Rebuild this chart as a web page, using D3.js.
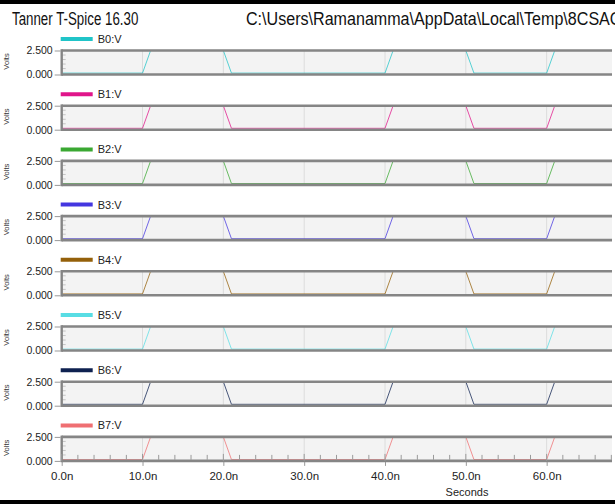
<!DOCTYPE html>
<html>
<head>
<meta charset="utf-8">
<script src="https://cdn.jsdelivr.net/npm/d3@7"></script>
<style>
  body { margin: 0; background: white; }
  svg { display: block; font-family: 'Liberation Sans', Arial, sans-serif; }
  .tick text { font-size: 11px; fill: #222; }
</style>
</head>
<body>
<div id="chart"></div>
<script>
// DATA
const signalNames = ['B0:V', 'B1:V', 'B2:V', 'B3:V', 'B4:V', 'B5:V', 'B6:V', 'B7:V'];
const signalColors = ['#20c4c8', '#e0158a', '#3aa832', '#4436e0', '#94600a', '#58dde4', '#0e2150', '#ef6f72'];
const timeNs = [0, 10, 11, 20, 21, 40, 41, 50, 51, 60, 61, 80];
const b0 = [0, 0, 2.5, 2.5, 0, 0, 2.5, 2.5, 0, 0, 2.5, 2.5];
const b1 = [0, 0, 2.5, 2.5, 0, 0, 2.5, 2.5, 0, 0, 2.5, 2.5];
const b2 = [0, 0, 2.5, 2.5, 0, 0, 2.5, 2.5, 0, 0, 2.5, 2.5];
const b3 = [0, 0, 2.5, 2.5, 0, 0, 2.5, 2.5, 0, 0, 2.5, 2.5];
const b4 = [0, 0, 2.5, 2.5, 0, 0, 2.5, 2.5, 0, 0, 2.5, 2.5];
const b5 = [0, 0, 2.5, 2.5, 0, 0, 2.5, 2.5, 0, 0, 2.5, 2.5];
const b6 = [0, 0, 2.5, 2.5, 0, 0, 2.5, 2.5, 0, 0, 2.5, 2.5];
const b7 = [0, 0, 2.5, 2.5, 0, 0, 2.5, 2.5, 0, 0, 2.5, 2.5];
const signalValues = [b0, b1, b2, b3, b4, b5, b6, b7];
const xTicks = [0, 10, 20, 30, 40, 50, 60];
const yTicks = [0, 2.5];

// DIMENSIONS
const width = 615, height = 504;
const plotLeft = 61.7, plotRight = 612;
const panelTop0 = 50.5, panelStep = 55.2, panelH = 24;

const svg = d3.select('#chart').append('svg')
    .attr('width', width)
    .attr('height', height);

// BLACK BARS
svg.append('rect').attr('x', 0).attr('y', 0).attr('width', width).attr('height', 4).attr('fill', '#000');
svg.append('rect').attr('x', 0).attr('y', 500).attr('width', width).attr('height', 4).attr('fill', '#000');

// TITLES
svg.append('text').attr('transform', 'translate(12,25) scale(0.72,1)')
    .style('font-size', '18.5px').attr('fill', '#111').text('Tanner T-Spice 16.30');
svg.append('text').attr('transform', 'translate(246,25) scale(0.87,1)')
    .style('font-size', '18.5px').attr('fill', '#111').text('C:\\Users\\Ramanamma\\AppData\\Local\\Temp\\8CSAC');

// X SCALE
const xScale = d3.scaleLinear().domain([0, 70]).range([plotLeft, plotLeft + 565.8]);

svg.append('clipPath').attr('id', 'clip')
    .append('rect').attr('x', plotLeft).attr('y', 0).attr('width', plotRight - plotLeft).attr('height', height);

signalNames.forEach((name, i) => {
    const top = panelTop0 + i * panelStep;
    const bottom = top + panelH;
    const yScale = d3.scaleLinear().domain([0, 2.5]).range([bottom - 1.4, top]);

    const g = svg.append('g');

    // LEGEND
    g.append('line')
        .attr('x1', plotLeft - 1).attr('x2', plotLeft + 31)
        .attr('y1', top - 11.5).attr('y2', top - 11.5)
        .attr('stroke', signalColors[i]).attr('stroke-width', 4);
    g.append('text')
        .attr('x', plotLeft + 36).attr('y', top - 7.5)
        .style('font-size', '11px').attr('fill', '#222')
        .text(name);

    // PANEL BACKGROUND
    g.append('rect')
        .attr('x', plotLeft).attr('y', top)
        .attr('width', plotRight - plotLeft).attr('height', panelH)
        .attr('fill', '#f3f3f3');

    // GRID
    g.selectAll('.grid').data(xTicks.slice(1)).enter()
        .append('line')
        .attr('x1', d => xScale(d)).attr('x2', d => xScale(d))
        .attr('y1', top).attr('y2', bottom)
        .attr('stroke', '#dcdcdc').attr('stroke-width', 1);

    // MINOR Y TICKS INSIDE
    g.selectAll('.ymin').data([0.5, 1, 1.5, 2]).enter()
        .append('line')
        .attr('x1', plotLeft).attr('x2', plotLeft + 4)
        .attr('y1', d => yScale(d)).attr('y2', d => yScale(d))
        .attr('stroke', '#c4c4c4').attr('stroke-width', 1);

    // WAVEFORM
    const line = d3.line()
        .x((d, j) => xScale(timeNs[j]))
        .y(d => yScale(d));
    g.append('path')
        .datum(signalValues[i])
        .attr('clip-path', 'url(#clip)')
        .attr('d', line)
        .attr('fill', 'none')
        .attr('stroke', signalColors[i])
        .attr('stroke-opacity', 0.75)
        .attr('stroke-width', 1);

    // BORDERS
    g.append('line')
        .attr('x1', plotLeft).attr('x2', plotRight)
        .attr('y1', top).attr('y2', top)
        .attr('stroke', '#858585').attr('stroke-width', 2.6);
    g.append('line')
        .attr('x1', plotLeft).attr('x2', plotRight)
        .attr('y1', bottom).attr('y2', bottom)
        .attr('stroke', '#858585').attr('stroke-width', 2.6);
    g.append('line')
        .attr('x1', plotLeft).attr('x2', plotLeft)
        .attr('y1', top - 1.3).attr('y2', bottom + 1.3)
        .attr('stroke', '#858585').attr('stroke-width', 2.4);

    // Y AXIS
    const yAxis = g.append('g')
        .attr('transform', `translate(${plotLeft - 1},0)`)
        .call(d3.axisLeft(d3.scaleLinear().domain([0, 2.5]).range([bottom, top]))
            .tickValues(yTicks).tickFormat(d3.format('.3f')).tickSize(6).tickPadding(2));
    yAxis.select('.domain').remove();
    yAxis.selectAll('.tick line').attr('stroke', '#999');
    yAxis.selectAll('.tick text').style('font-size', '10.5px');

    // VOLTS LABEL
    g.append('text')
        .attr('transform', `translate(9,${top + 11})rotate(-90)`)
        .attr('text-anchor', 'middle')
        .style('font-size', '7.5px').attr('fill', '#333')
        .text('Volts');

    // X AXIS ON LAST PANEL
    if (i === signalNames.length - 1) {
        const minor = d3.range(0, 72, 2).filter(d => d % 10 !== 0);
        g.selectAll('.xmin').data(minor).enter()
            .append('line')
            .attr('x1', d => xScale(d)).attr('x2', d => xScale(d))
            .attr('y1', bottom - 1).attr('y2', bottom - 6)
            .attr('stroke', '#9a9a9a').attr('stroke-width', 1);
        g.selectAll('.xmaj').data(xTicks).enter()
            .append('line')
            .attr('x1', d => xScale(d)).attr('x2', d => xScale(d))
            .attr('y1', bottom - 7).attr('y2', bottom)
            .attr('stroke', '#9a9a9a').attr('stroke-width', 1);

        const xAxis = g.append('g')
            .attr('transform', `translate(0,${bottom + 1})`)
            .call(d3.axisBottom(xScale).tickValues(xTicks)
                .tickFormat(d => d.toFixed(1) + 'n').tickSize(4).tickPadding(6));
        xAxis.select('.domain').remove();
        xAxis.selectAll('.tick line').attr('stroke', '#999');
        xAxis.selectAll('.tick text').style('font-size', '11.5px');

        g.append('text')
            .attr('x', 467).attr('y', 496)
            .attr('text-anchor', 'middle')
            .style('font-size', '11px').attr('fill', '#222')
            .text('Seconds');
    }
});
</script>
</body>
</html>
